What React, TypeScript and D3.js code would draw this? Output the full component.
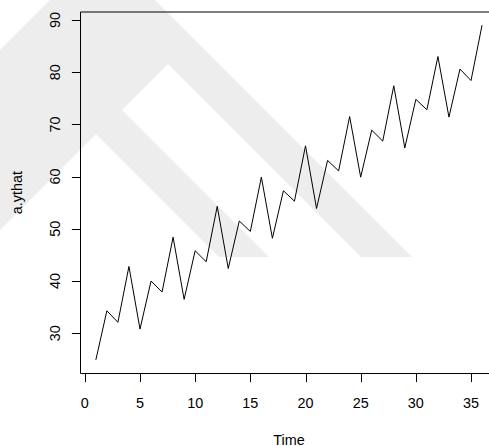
import React from "react";
import * as d3 from "d3";

// Fitted series a.ythat, one value per time step
const ythat: number[] = [
  24.9, 34.3, 32.1, 42.8, 30.8, 40.0, 37.9, 48.4, 36.5, 45.8, 43.7, 54.3,
  42.4, 51.5, 49.5, 59.9, 48.2, 57.3, 55.3, 65.9, 53.9, 63.1, 61.1, 71.5,
  59.9, 68.9, 66.8, 77.4, 65.5, 74.8, 72.8, 83.0, 71.4, 80.6, 78.4, 89.0,
];
const xTicks: number[] = [0, 5, 10, 15, 20, 25, 30, 35];
const yTicks: number[] = [30, 40, 50, 60, 70, 80, 90];
const xTitle = "Time";
const yTitle = "a.ythat";

const W = 489;
const H = 446;
const FONT = "'Liberation Sans', Arial, Helvetica, sans-serif";
const FS = 14.4;

// Background emblem (light grey chevrons)
const emblemFill: [number, number][] = [
  [0, 50], [50, 0], [155, 0], [412, 257], [219, 257], [96, 134], [0, 230],
];
const emblemGap: [number, number][] = [
  [122, 110], [168, 64], [361, 257], [269, 257],
];

export default function App() {
  const t = ythat.map((_, i) => i + 1);
  const pad = (d3.max(ythat)! - d3.min(ythat)!) * 0.04;
  const xPad = (t[t.length - 1] - t[0]) * 0.04;

  const x = d3
    .scaleLinear()
    .domain([t[0] - xPad, t[t.length - 1] + xPad])
    .range([80.4, 497.5]);
  const y = d3
    .scaleLinear()
    .domain([d3.min(ythat)! - pad, d3.max(ythat)! + pad])
    .range([373.3, 11.8]);

  const line = d3
    .line<number>()
    .x((_, i) => x(t[i]))
    .y((d) => y(d));

  const poly = (pts: [number, number][]) =>
    "M" + pts.map((p) => p.join(",")).join("L") + "Z";

  const [x0, x1] = x.range();
  const [yb, yt] = y.range();
  const axisX = Math.round(x0) + 0.5;
  const axisY = Math.round(yb) + 0.5;
  const topY = Math.round(yt);

  return (
    <svg
      width={W}
      height={H}
      style={{ position: "absolute", left: 0, top: 0, background: "#fff" }}
      fontFamily={FONT}
    >
      <defs>
        <filter id="soft" x="-5%" y="-5%" width="110%" height="110%">
          <feGaussianBlur stdDeviation="0.7" />
        </filter>
      </defs>
      <rect width={W} height={H} fill="#fff" />
      <g filter="url(#soft)">
        <path d={poly(emblemFill)} fill="#ededed" />
        <path d={poly(emblemGap)} fill="#fff" />
      </g>

      {/* plot frame */}
      <line x1={axisX} x2={x1} y1={topY} y2={topY} stroke="#000" strokeWidth={1} />
      <line x1={axisX} x2={axisX} y1={topY} y2={axisY} stroke="#000" strokeWidth={1} />
      <line x1={axisX} x2={x1} y1={axisY} y2={axisY} stroke="#000" strokeWidth={1} />
      <line x1={x1} x2={x1} y1={topY} y2={axisY} stroke="#000" strokeWidth={1} />

      {/* series */}
      <path d={line(ythat) ?? ""} fill="none" stroke="#000" strokeWidth={1} />

      {/* x axis */}
      {xTicks.map((v) => (
        <g key={"xt" + v}>
          <line
            x1={Math.round(x(v)) + 0.5}
            x2={Math.round(x(v)) + 0.5}
            y1={axisY}
            y2={axisY + 8.6}
            stroke="#000"
          />
          <text x={x(v)} y={408.3} fontSize={FS} textAnchor="middle" fill="#000">
            {v}
          </text>
        </g>
      ))}
      <text x={(x0 + x1) / 2} y={444.5} fontSize={FS} textAnchor="middle" fill="#000">
        {xTitle}
      </text>

      {/* y axis */}
      {yTicks.map((v) => (
        <g key={"yt" + v}>
          <line
            x1={axisX}
            x2={axisX - 8.6}
            y1={Math.round(y(v)) + 0.5}
            y2={Math.round(y(v)) + 0.5}
            stroke="#000"
          />
          <text
            transform={`translate(60,${y(v)}) rotate(-90)`}
            fontSize={FS}
            textAnchor="middle"
            fill="#000"
          >
            {v}
          </text>
        </g>
      ))}
      <text
        transform={`translate(21.5,${(yb + yt) / 2}) rotate(-90)`}
        fontSize={FS}
        textAnchor="middle"
        fill="#000"
      >
        {yTitle}
      </text>
    </svg>
  );
}
